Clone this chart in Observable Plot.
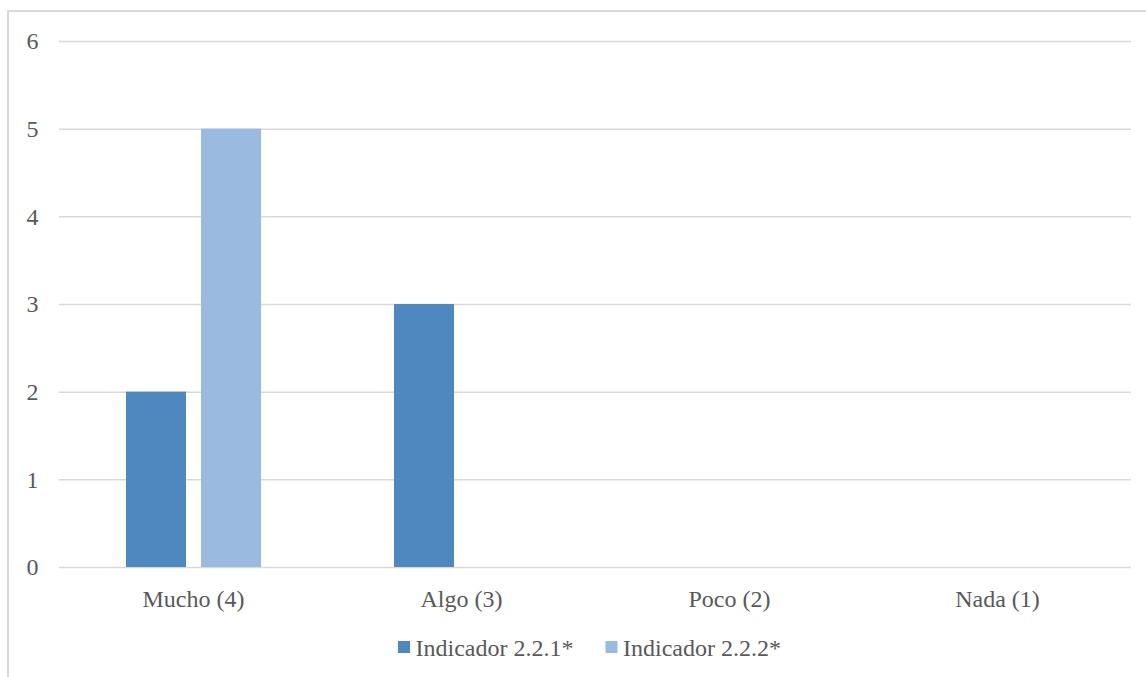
<!DOCTYPE html>
<html>
<head>
<meta charset="utf-8">
<script src="https://cdn.jsdelivr.net/npm/d3@7"></script>
<script src="https://cdn.jsdelivr.net/npm/@observablehq/plot@0.6"></script>
<style>
html, body { margin: 0; padding: 0; overflow: hidden; background: #fff; width: 1146px; height: 677px; }
#frame { position: absolute; left: 7px; top: 10px; width: 1200px; height: 720px; border: 2px solid #d9d9d9; box-sizing: content-box; }
#chart { position: absolute; left: 0; top: 0; }
#legend { position: absolute; left: 389px; top: 622px; }
</style>
</head>
<body>
<div id="frame">
  <div id="chart"></div>
  <div id="legend"></div>
</div>
<script>
const categories = ["Mucho (4)", "Algo (3)", "Poco (2)", "Nada (1)"];
const seriesNames = ["Indicador 2.2.1*", "Indicador 2.2.2*"];
const indicador221 = [2, 3, 0, 0];
const indicador222 = [5, 0, 0, 0];
const yTicks = [0, 1, 2, 3, 4, 5, 6];
const colors = ["#4f88bf", "#9bbadf"];
const FONT = "'Liberation Serif', 'Times New Roman', serif";

const data = [];
categories.forEach((c, i) => {
  data.push({category: c, series: seriesNames[0], value: indicador221[i]});
  data.push({category: c, series: seriesNames[1], value: indicador222[i]});
});

const plot = Plot.plot({
  width: 1137,
  height: 610,
  marginLeft: 49,
  marginRight: 15,
  marginTop: 29,
  marginBottom: 55,
  style: {fontFamily: FONT, fontSize: "24px", color: "#595959", background: "transparent"},
  fx: {domain: categories, padding: 0, label: null, tickSize: 0, tickPadding: 22},
  x: {domain: seriesNames, paddingInner: 0.2, paddingOuter: 0.87, axis: null},
  y: {domain: [0, 6], ticks: yTicks, label: null, tickSize: 0, tickPadding: 21, tickFormat: d3.format("d")},
  color: {domain: seriesNames, range: colors},
  marks: [
    Plot.ruleY(yTicks, {stroke: "#d9d9d9", strokeWidth: 1.5}),
    Plot.barY(data, {fx: "category", x: "series", y: "value", fill: "series"})
  ]
});
document.getElementById("chart").appendChild(plot);

// Legend (below the plot), drawn as SVG text so the serif face renders at 24px
const lsvg = d3.select("#legend").append("svg")
  .attr("width", 440).attr("height", 30)
  .style("font-family", FONT).style("font-size", "24px");
let xPos = 0;
seriesNames.forEach((s, i) => {
  lsvg.append("rect").attr("x", xPos).attr("y", 7).attr("width", 12).attr("height", 12).attr("fill", colors[i]);
  const t = lsvg.append("text").attr("x", xPos + 17.5).attr("y", 21.5).attr("fill", "#595959").text(s);
  xPos += 17.5 + t.node().getComputedTextLength() + 32;
});
</script>
</body>
</html>
